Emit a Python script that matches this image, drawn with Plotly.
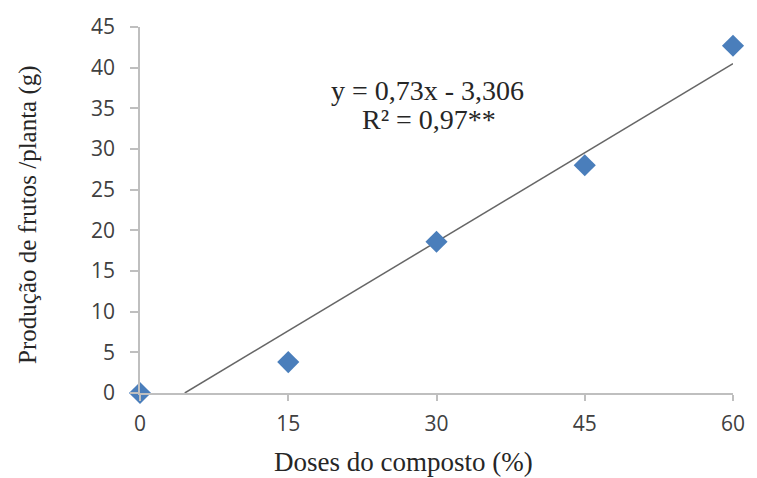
import plotly.graph_objects as go

doses = [0, 15, 30, 45, 60]
producao = [0, 3.8, 18.6, 28.0, 42.7]
slope = 0.73
intercept = -3.306
trend_x = [-intercept / slope, 60]
trend_y = [slope * x + intercept for x in trend_x]
x_ticks = [0, 15, 30, 45, 60]
y_ticks = [0, 5, 10, 15, 20, 25, 30, 35, 40, 45]

serif = "Liberation Serif, Times New Roman, serif"
L, R, T, B = 140, 19, 23, 85
W, H = 757, 478
pw, ph = W - L - R, H - T - B

def px_to_paper(px, py):
    return (px - L) / pw, 1 - (py - T) / ph

fig = go.Figure()
fig.add_trace(go.Scatter(x=trend_x, y=trend_y, mode="lines",
                         line=dict(color="#666666", width=1.5),
                         hoverinfo="skip", cliponaxis=False))
fig.add_trace(go.Scatter(x=doses, y=producao, mode="markers",
                         marker=dict(symbol="diamond", size=17, color="#4A7EBB"),
                         cliponaxis=False))

axis_common = dict(showgrid=False, zeroline=False, showline=True,
                   linecolor="#BFBFBF", linewidth=1.5, ticks="outside",
                   tickcolor="#BFBFBF", tickwidth=1.5,
                   tickfont=dict(family="Open Sans, DejaVu Sans, sans-serif", size=21, color="#404040"))

annots = []
def add_text(px, py, text, size, angle=0):
    x, y = px_to_paper(px, py)
    annots.append(dict(x=x, y=y, xref="paper", yref="paper", text=text, showarrow=False,
                       xanchor="center", yanchor="middle", textangle=angle,
                       font=dict(family=serif, size=size, color="#262626")))

add_text(430, 87, "y = 0,73x - 3,306", 28)
add_text(431, 117, "R² = 0,97**", 28)
add_text(406, 463, "Doses do composto (%)", 27)
add_text(27, 212, "Produção de frutos /planta (g)", 25, angle=-90)

fig.update_layout(
    width=W, height=H,
    margin=dict(l=L, r=R, t=T, b=B),
    paper_bgcolor="white", plot_bgcolor="white",
    showlegend=False,
    xaxis=dict(range=[0, 60], tickvals=x_ticks, ticklen=6, ticklabelstandoff=5, **axis_common),
    yaxis=dict(range=[0, 45], tickvals=y_ticks, ticklen=8, ticklabelstandoff=11, **axis_common),
    annotations=annots,
)

fig.write_html("out.html")
